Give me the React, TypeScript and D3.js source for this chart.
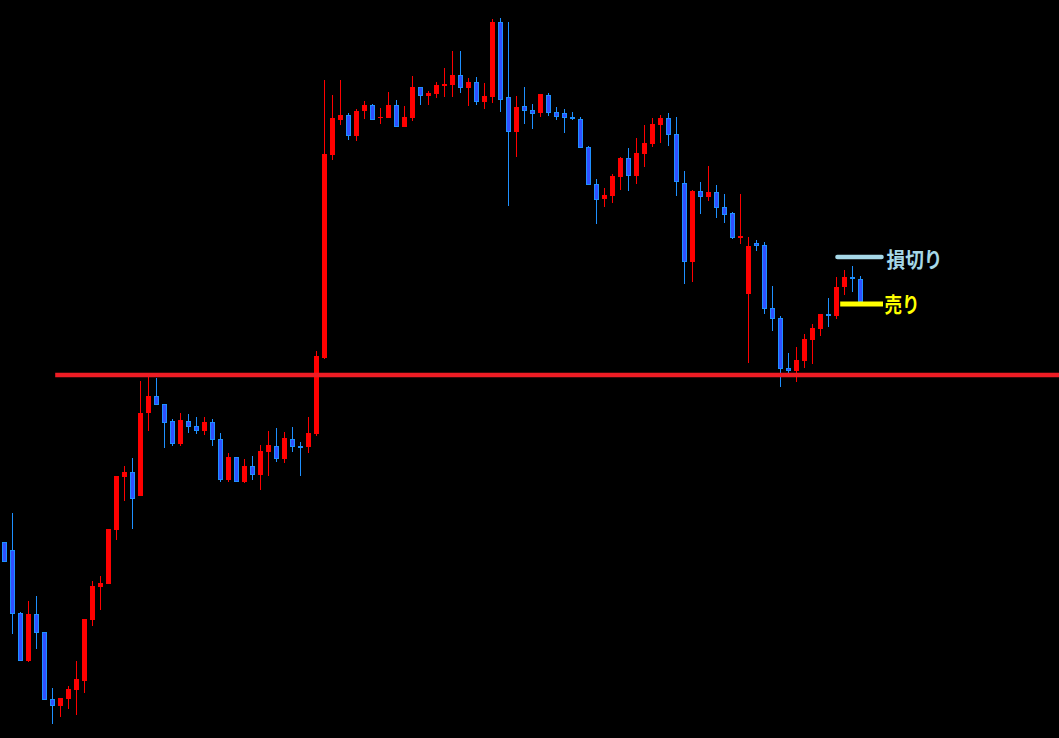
import React from "react";
import * as d3 from "d3";

const W = 1059;
const H = 738;

// OHLC values (price units)
const opens = [196,188,125,77,124,106,39,32,39,48,57,118,151,154,208,261,266,242,325,342,334,317,294,317,312,307,316,299,258,281,256,272,263,286,292,279,299,292,291,304,380,583,618,623,602,627,633,620,620,633,611,620,651,642,644,652,653,663,650,656,636,641,716,641,606,632,628,625,643,626,625,621,619,591,554,539,542,561,580,562,584,594,613,620,604,555,476,547,541,546,531,525,500,444,495,493,430,420,370,367,377,398,409,424,422,451,461,459];
const highs = [196,225,126,137,142,106,50,40,52,77,119,157,162,209,262,272,280,357,361,360,334,319,325,324,321,321,319,305,285,281,279,282,293,307,310,306,311,296,321,387,658,643,658,625,629,637,634,630,646,638,632,662,651,647,656,670,687,687,660,661,655,719,720,716,642,651,634,644,645,631,629,626,621,592,559,550,564,581,590,600,613,620,623,625,621,567,548,556,572,553,544,526,544,501,498,496,452,422,385,391,404,414,424,440,461,468,472,462];
const lows = [176,104,77,76,89,38,14,21,29,23,45,112,128,154,198,237,209,242,307,333,290,292,292,305,304,303,292,256,256,256,255,258,248,262,276,275,286,262,285,302,379,578,613,598,597,619,618,614,620,611,611,617,633,633,640,641,641,645,632,633,629,635,626,532,581,614,609,621,622,618,605,618,590,553,514,531,535,548,547,554,571,591,595,592,542,454,456,524,537,520,515,499,494,375,487,424,407,351,362,356,370,374,402,411,419,443,446,436];
const closes = [176,124,77,124,105,38,32,40,49,59,119,152,155,209,262,266,239,325,342,333,315,294,318,311,307,316,298,258,281,256,272,263,287,293,279,300,291,290,305,382,584,620,623,602,627,633,618,621,633,611,621,651,642,645,653,654,663,650,656,636,642,716,638,606,631,627,624,644,625,621,620,619,590,553,538,543,562,580,562,585,595,614,620,603,556,476,547,541,546,530,523,500,502,492,492,429,419,369,367,378,399,410,424,422,451,461,459,436];

// Horizontal levels
const supportLevel = 363;
const supportStart = 6.4;
const stopLevel = 481;
const sellLevel = 434;
const stopLabel = "損切り";
const sellLabel = "売り";
const levelStart = 104;
const levelEnd = 110;

const RED = "#ff0000";
const BLUE_FILL = "#3050ff";
const BLUE_EDGE = "#1e90ff";
const STOP_COLOR = "#a6d8e8";
const SELL_COLOR = "#ffff00";

export default function App() {
  const x = d3.scaleLinear().domain([0, 1]).range([4, 12]);
  const y = d3.scaleLinear().domain([0, 738]).range([H, 0]);
  const bw = 5;

  const candles = opens.map((o, i) => ({
    i,
    o,
    h: highs[i],
    l: lows[i],
    c: closes[i],
  }));

  return (
    <svg
      width={W}
      height={H}
      style={{ position: "fixed", left: 0, top: 0, display: "block", background: "#000" }}
    >
      <rect x={0} y={0} width={W} height={H} fill="#000" />
      {candles.map((d) => {
        const up = d.c >= d.o;
        const cx = Math.round(x(d.i));
        const top = y(Math.max(d.o, d.c));
        const bot = y(Math.min(d.o, d.c));
        const bh = Math.max(1, bot - top);
        const col = up ? RED : BLUE_EDGE;
        return (
          <g key={d.i}>
            <line
              x1={cx + 0.5}
              x2={cx + 0.5}
              y1={y(d.h)}
              y2={y(d.l)}
              stroke={col}
              strokeWidth={1}
            />
            {up ? (
              <rect x={cx - 2} y={top} width={bw} height={bh} fill={RED} />
            ) : (
              <rect
                x={cx - 1.5}
                y={top + 0.5}
                width={bw - 1}
                height={Math.max(0.5, bh - 1)}
                fill={BLUE_FILL}
                stroke={BLUE_EDGE}
                strokeWidth={1}
              />
            )}
          </g>
        );
      })}
      <line
        x1={x(supportStart)}
        x2={W}
        y1={y(supportLevel)}
        y2={y(supportLevel)}
        stroke="#ee1c24"
        strokeWidth={4.5}
      />
      <line
        x1={x(levelStart) + 1.5}
        x2={x(levelEnd) - 2.5}
        y1={y(stopLevel)}
        y2={y(stopLevel)}
        stroke={STOP_COLOR}
        strokeWidth={4.6}
        strokeLinecap="round"
      />
      <line
        x1={x(levelStart + 0.4) + 1}
        x2={x(levelEnd) - 1}
        y1={y(sellLevel)}
        y2={y(sellLevel)}
        stroke={SELL_COLOR}
        strokeWidth={5}
      />
      <text
        x={x(levelEnd) + 2.5}
        y={y(stopLevel) + 0.5}
        dominantBaseline="central"
        fill={STOP_COLOR}
        fontFamily="'Noto Sans CJK JP', sans-serif"
        fontWeight="bold"
        fontSize={21}
        textLength={56}
        lengthAdjust="spacingAndGlyphs"
      >
        {stopLabel}
      </text>
      <text
        x={x(levelEnd) + 0.5}
        y={y(sellLevel) - 1.5}
        dominantBaseline="central"
        fill={SELL_COLOR}
        fontFamily="'Noto Sans CJK JP', sans-serif"
        fontWeight="bold"
        fontSize={21}
        textLength={35}
        lengthAdjust="spacingAndGlyphs"
      >
        {sellLabel}
      </text>
    </svg>
  );
}
